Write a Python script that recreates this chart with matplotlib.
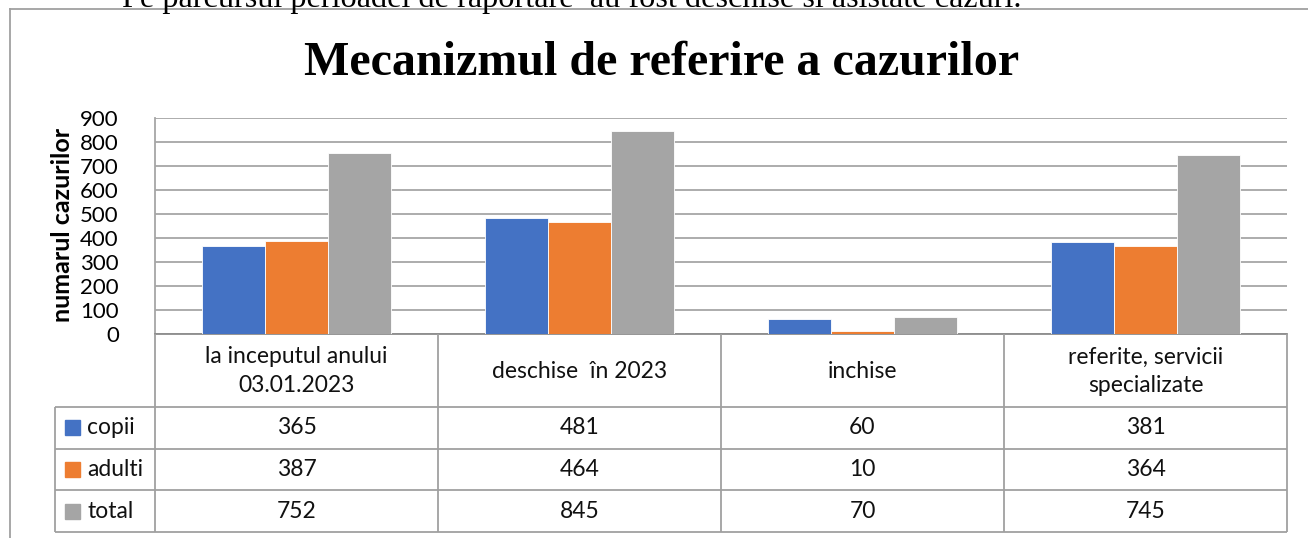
import matplotlib
matplotlib.use("Agg")
import matplotlib.pyplot as plt
from matplotlib.lines import Line2D
from matplotlib.patches import Rectangle
import numpy as np

# ---------------- data ----------------
categories = ["la inceputul anului\n03.01.2023", "deschise  în 2023", "inchise",
              "referite, servicii\nspecializate"]
series_names = ["copii", "adulti", "total"]
copii = [365, 481, 60, 381]
adulti = [387, 464, 10, 364]
total = [752, 845, 70, 745]
series_values = [copii, adulti, total]
colors = ["#4472C4", "#ED7D31", "#A5A5A5"]
yticks = [0, 100, 200, 300, 400, 500, 600, 700, 800, 900]

title = "Mecanizmul de referire a cazurilor"
ylabel = "numarul cazurilor"
top_text = "Pe parcursul perioadei de raportare  au fost deschise si asistate cazuri."

# ---------------- layout ----------------
W, H = 1308, 538
DPI = 100
fig = plt.figure(figsize=(W / DPI, H / DPI), dpi=DPI)
fig.patch.set_facecolor("white")

SANS = ["Lato", "DejaVu Sans"]
SERIF = ["Liberation Serif", "DejaVu Serif"]
GRID = "#A6A6A6"
LINE = "#A0A0A0"


def fx(px):
    return px / W


def fy(py):
    return 1 - py / H


x0, x1 = 155, 1287
y_top, y_zero = 117.7, 333.5
ax = fig.add_axes([fx(x0), fy(y_zero), fx(x1) - fx(x0), fy(y_top) - fy(y_zero)])
ax.set_xlim(-0.5, len(categories) - 0.5)
ax.set_ylim(0, 900)
ax.set_yticks(yticks)
ax.set_yticklabels([str(t) for t in yticks], fontsize=16, family=SANS)
ax.tick_params(axis="y", length=0, pad=26)
ax.set_xticks([])
ax.grid(axis="y", color=GRID, linewidth=1.3)
ax.set_axisbelow(True)
for s in ["top", "right"]:
    ax.spines[s].set_visible(False)
ax.spines["left"].set_color(GRID)
ax.spines["left"].set_linewidth(1.3)
ax.spines["bottom"].set_color("#8C8C8C")
ax.spines["bottom"].set_linewidth(1.3)

x = np.arange(len(categories))
bw = 0.2226
for i, (vals, c) in enumerate(zip(series_values, colors)):
    ax.bar(x + (i - 1) * bw, vals, width=bw, color=c, edgecolor="white",
           linewidth=0.6, zorder=3)

# ---------------- data table ----------------
t_bottom = 532
tax = fig.add_axes([fx(x0), fy(t_bottom), fx(x1) - fx(x0), fy(y_zero) - fy(t_bottom)])
tax.set_xlim(-0.5, len(categories) - 0.5)
tax.set_ylim(t_bottom, y_zero)
tax.axis("off")
px_per_unit = (x1 - x0) / len(categories)
label_left = -0.5 - (x0 - 55) / px_per_unit
row_lines = [407, 448.5, 490, 532]

kw = dict(color=LINE, linewidth=1.3, clip_on=False, solid_capstyle="butt")
for b in np.arange(len(categories) + 1) - 0.5:
    tax.add_line(Line2D([b, b], [y_zero, t_bottom], **kw))
for r in row_lines:
    tax.add_line(Line2D([label_left, len(categories) - 0.5], [r, r], **kw))
tax.add_line(Line2D([label_left, label_left], [row_lines[0], t_bottom], **kw))

for i, cat in enumerate(categories):
    tax.text(i, (y_zero + row_lines[0]) / 2 + 1, cat, ha="center", va="center",
             fontsize=16.5, family=SANS, linespacing=1.45, color="#111111")

key_x0 = label_left + (65 - 55) / px_per_unit
key_w = 15 / px_per_unit
for j, (name, vals, c) in enumerate(zip(series_names, series_values, colors)):
    yc = (row_lines[j] + row_lines[j + 1]) / 2
    tax.add_patch(Rectangle((key_x0, yc - 7.5), key_w, 15, color=c, clip_on=False))
    tax.text(label_left + (87 - 55) / px_per_unit, yc, name, ha="left", va="center",
             fontsize=16.5, family=SANS, color="#111111", clip_on=False)
    for i, v in enumerate(vals):
        tax.text(i, yc, str(v), ha="center", va="center", fontsize=16.5,
                 family=SANS, color="#111111")

# ---------------- texts ----------------
yl = fig.text(fx(63), fy(225), ylabel, rotation=90, ha="center", va="center",
              fontsize=15, fontweight="bold", family=SANS)
tt = fig.text(fx(662), fy(75), title, ha="center", va="baseline",
              fontsize=34, fontweight="bold", family=SERIF)
top = fig.text(fx(122), fy(6.5), top_text, ha="left", va="baseline",
               fontsize=21, family=SERIF)

# fit text sizes to the reference layout
fig.canvas.draw()
r = fig.canvas.get_renderer()
for t, target in [(tt, 715), (top, 898)]:
    w = t.get_window_extent(r).width
    t.set_fontsize(t.get_fontsize() * target / w)
h = yl.get_window_extent(r).height
yl.set_fontsize(yl.get_fontsize() * 194 / h)

# outer chart frame (top and left visible)
fig.add_artist(Line2D([fx(10), 1.0], [fy(9), fy(9)], color=LINE, linewidth=1.3))
fig.add_artist(Line2D([fx(10), fx(10)], [fy(9), 0.0], color=LINE, linewidth=1.3))

fig.savefig("out.png", dpi=DPI, facecolor="white")
